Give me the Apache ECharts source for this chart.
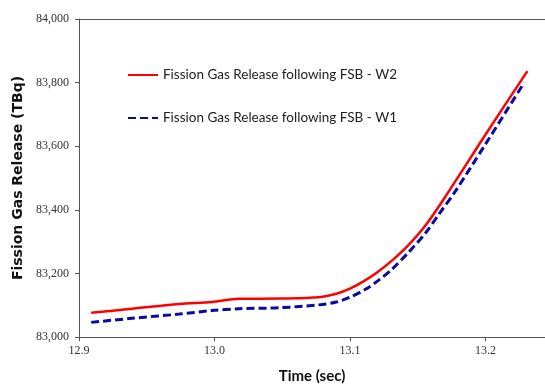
<!DOCTYPE html>
<html>
<head>
<meta charset="utf-8">
<script src="https://cdn.jsdelivr.net/npm/echarts@6/dist/echarts.min.js"></script>
<style>
  html, body { margin: 0; padding: 0; background: #fff; }
  #chart { width: 545px; height: 384px; }
</style>
</head>
<body>
<div id="chart"></div>
<script>
// Fission gas release curves (time in sec, release in TBq)
var seriesNames = [
  'Fission Gas Release following FSB - W2',
  'Fission Gas Release following FSB - W1'
];

var timeW2 = [12.909, 12.937, 12.974, 12.998, 13.018, 13.048, 13.077, 13.090, 13.100, 13.110, 13.120, 13.131, 13.143, 13.156, 13.171, 13.200, 13.231];
var relW2  = [83076, 83088, 83104, 83110, 83120, 83121, 83125, 83136, 83152, 83175, 83203, 83240, 83288, 83352, 83445, 83636, 83836];

var timeW1 = [12.909, 12.937, 12.974, 12.998, 13.018, 13.048, 13.077, 13.090, 13.100, 13.1115, 13.121, 13.131, 13.143, 13.156, 13.166, 13.177, 13.200, 13.2285];
var relW1  = [83046, 83058, 83072, 83083, 83089, 83092, 83101, 83110, 83125, 83150, 83178, 83213, 83265, 83328, 83388, 83453, 83606, 83799];

var xTicks = [12.9, 13.0, 13.1, 13.2];

function pairs(xs, ys) {
  return xs.map(function (x, i) { return [x, ys[i]]; });
}

var chart = echarts.init(document.getElementById('chart'));

var option = {
  animation: false,
  grid: { left: 79, top: 19, right: 0, bottom: 47, outerBoundsMode: 'none' },
  legend: {
    orient: 'vertical',
    left: 122,
    top: 63,
    itemWidth: 30,
    itemHeight: 14,
    itemGap: 29,
    itemStyle: { opacity: 0 },
    textStyle: { fontFamily: 'Lato', fontSize: 13.5, color: '#222' },
    data: seriesNames
  },
  xAxis: [
    {
      type: 'value',
      min: 12.9,
      max: 13.244,
      interval: 0.1,
      name: 'Time (sec)',
      nameLocation: 'middle',
      nameGap: 32,
      nameTextStyle: { fontFamily: 'Lato', fontWeight: 'bold', fontSize: 15, color: '#111' },
      axisLine: { lineStyle: { color: '#555', width: 1 } },
      axisTick: { length: 4, lineStyle: { color: '#555' } },
      splitLine: { show: false },
      axisLabel: {
        fontFamily: 'Liberation Sans Narrow',
        fontSize: 12,
        color: '#333',
        margin: 8,
        showMaxLabel: false,
        formatter: function (v) {
          var hit = xTicks.some(function (t) { return Math.abs(t - v) < 1e-6; });
          return hit ? v.toFixed(1) : '';
        }
      }
    },
    {
      type: 'value',
      position: 'top',
      min: 12.9,
      max: 13.244,
      axisLine: { show: true, lineStyle: { color: '#555', width: 1 } },
      axisTick: { show: false },
      axisLabel: { show: false },
      splitLine: { show: false }
    }
  ],
  yAxis: {
    type: 'value',
    min: 83000,
    max: 84000,
    interval: 200,
    name: 'Fission Gas Release (TBq)',
    nameLocation: 'middle',
    nameGap: 54,
    nameTextStyle: { fontFamily: 'DejaVu Sans', fontWeight: 'bold', fontSize: 14, color: '#111' },
    axisLine: { show: true, lineStyle: { color: '#555', width: 1 } },
    axisTick: { show: true, length: 4, lineStyle: { color: '#555' } },
    splitLine: { show: false },
    axisLabel: {
      fontFamily: 'Liberation Sans Narrow',
      fontSize: 12,
      color: '#333',
      margin: 10,
      formatter: function (v) { return v.toLocaleString('en-US'); }
    }
  },
  series: [
    {
      name: seriesNames[0],
      type: 'line',
      smooth: 0.3,
      symbol: 'none',
      data: pairs(timeW2, relW2),
      itemStyle: { color: '#ff0000' },
      lineStyle: { color: '#ff0000', width: 2.5 }
    },
    {
      name: seriesNames[1],
      type: 'line',
      smooth: 0.3,
      symbol: 'none',
      data: pairs(timeW1, relW1),
      itemStyle: { color: '#0a0aa0' },
      lineStyle: { color: '#0a0aa0', width: 3, type: [8, 4] }
    }
  ]
};

chart.setOption(option);
</script>
</body>
</html>
